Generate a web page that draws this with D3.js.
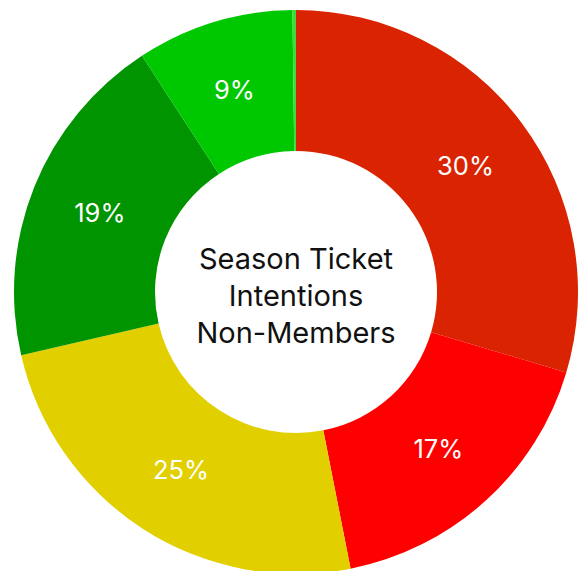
<!DOCTYPE html>
<html>
<head>
<meta charset="utf-8">
<script src="https://cdn.jsdelivr.net/npm/d3@7"></script>
<style>
  html, body { margin: 0; padding: 0; background: #ffffff; }
  svg { display: block; }
  text { font-family: Inter, "Noto Sans", sans-serif; }
</style>
</head>
<body>
<svg id="chart" width="581" height="571"></svg>
<script>
// Season ticket intentions among non-members (share of respondents)
const categories = [
  "Definitely not",
  "Probably not",
  "Unsure",
  "Probably",
  "Definitely",
  "Already purchased"
];
const shares = [0.296, 0.173, 0.245, 0.194, 0.090, 0.002];
const colors = ["#da2300", "#ff0000", "#e1cf00", "#009400", "#00c800", "#3ddc3d"];
const titleLines = ["Season Ticket", "Intentions", "Non-Members"];

const width = 581, height = 571;
const cx = 296, cy = 292;
const outerR = 282, innerR = 141;

const svg = d3.select("#chart");
const g = svg.append("g").attr("transform", `translate(${cx},${cy})`);

const data = categories.map((c, i) => ({ category: c, value: shares[i], color: colors[i] }));

const pie = d3.pie().value(d => d.value).sort(null);
const arc = d3.arc().innerRadius(innerR).outerRadius(outerR);
const labelArc = d3.arc().innerRadius((innerR + outerR) / 2).outerRadius((innerR + outerR) / 2);

const arcs = pie(data);

g.selectAll("path.slice")
  .data(arcs)
  .join("path")
  .attr("class", "slice")
  .attr("d", arc)
  .attr("fill", d => d.data.color);

const fmt = d3.format(".0%");

// percentage labels at slice centroids (very small slices are left unlabelled)
g.selectAll("text.pct")
  .data(arcs.filter(d => d.data.value >= 0.03))
  .join("text")
  .attr("class", "pct")
  .attr("transform", d => `translate(${labelArc.centroid(d)})`)
  .attr("text-anchor", "middle")
  .attr("dominant-baseline", "central")
  .attr("fill", "#ffffff")
  .attr("font-size", 25.5)
  .text(d => fmt(d.data.value));

// title in the hole
const lineH = 37;
g.append("text")
  .attr("text-anchor", "middle")
  .attr("font-size", 29)
  .attr("fill", "#111111")
  .selectAll("tspan")
  .data(titleLines)
  .join("tspan")
  .attr("x", 0)
  .attr("y", (d, i) => (i - (titleLines.length - 1) / 2) * lineH + 3)
  .attr("dominant-baseline", "central")
  .text(d => d);
</script>
</body>
</html>
